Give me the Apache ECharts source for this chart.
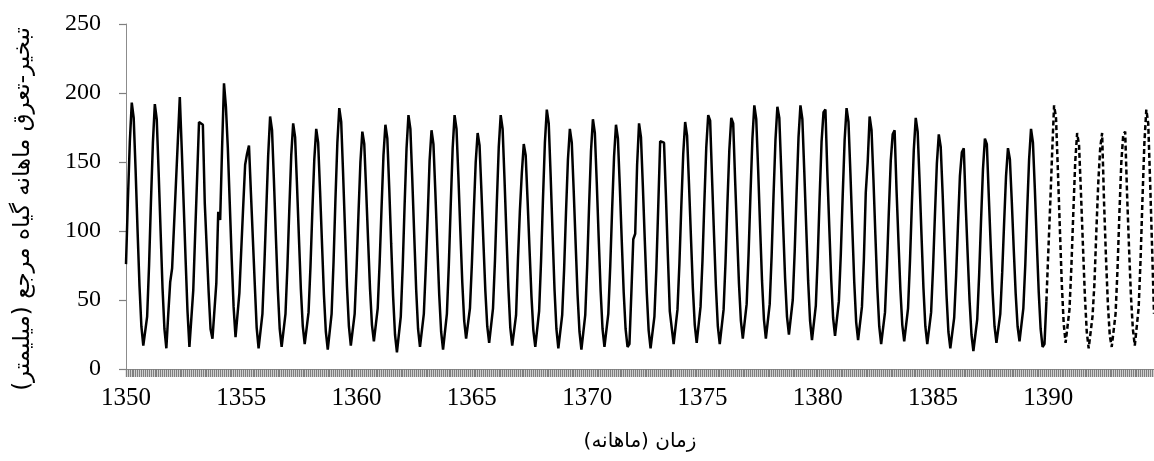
<!DOCTYPE html>
<html><head><meta charset="utf-8">
<script src="https://cdn.jsdelivr.net/npm/echarts@6/dist/echarts.min.js"></script>
<style>html,body{margin:0;padding:0;background:#fff}#c{width:1154px;height:461px}</style>
</head><body><div id="c"></div>
<script>
// Monthly reference ET (mm), observed 1350–1389 (Farvardin..Esfand per row)
const observed = [
  76,123,165,193,182,144,101,61,31,17,18,38,
  75,122,164,192,181,142,100,59,29,15,40,63,
  73,104,135,166,197,160,120,80,42,16,17,57,
  98,138,179,178,177,120,88,56,29,22,23,62,
  114,108,160,207,190,160,120,80,45,23,24,55,
  87,118,148,156,162,128,95,62,30,15,16,40,
  75,115,155,183,173,136,96,58,29,16,17,40,
  74,116,155,178,168,133,95,58,31,18,19,41,
  74,115,152,174,164,129,91,54,27,14,15,40,
  77,123,164,189,179,141,100,60,31,17,18,40,
  73,113,150,172,163,129,93,58,32,20,21,44,
  77,117,155,177,167,131,91,53,25,12,13,38,
  74,119,160,184,174,137,97,58,29,16,17,40,
  73,110,151,173,163,128,90,54,27,14,15,40,
  75,119,160,184,174,139,100,63,35,22,23,44,
  76,114,150,171,162,128,92,57,31,19,20,44,
  78,121,161,184,174,137,97,59,30,17,18,39,
  80,115,142,163,155,122,87,53,28,16,17,42,
  78,123,164,188,178,140,98,58,29,15,16,39,
  72,114,152,174,164,129,91,54,27,14,15,39,
  74,118,158,181,171,135,95,57,29,16,17,40,
  74,116,154,177,167,132,93,56,29,16,18,55,
  94,98,148,178,168,132,93,56,28,15,16,38,
  72,118,165,165,164,125,82,42,30,18,19,43,
  76,118,156,179,169,134,96,59,32,19,20,45,
  78,121,161,184,180,138,98,60,31,18,19,43,
  77,120,159,182,178,137,99,62,35,22,23,47,
  83,127,167,191,181,144,103,64,36,22,23,47,
  82,126,166,190,182,144,104,66,38,25,26,50,
  85,128,168,191,181,143,103,64,35,21,22,46,
  81,125,165,186,188,142,103,65,37,24,25,49,
  83,126,166,189,179,142,102,63,34,21,22,45,
  79,128,150,183,173,137,97,59,31,18,19,41,
  74,114,151,170,173,130,93,58,32,20,21,44,
  78,120,159,182,172,136,97,59,31,18,19,41,
  73,112,149,170,161,127,89,54,27,15,16,37,
  67,105,140,157,160,119,84,50,25,13,14,36,
  68,108,145,167,163,126,90,56,31,19,20,40,
  70,106,140,160,152,121,87,55,31,20,21,44,
  75,115,152,174,164,130,92,56,29,16,18,49
];
// Forecast 1390–1394 (dashed)
const forecast = [
  85,120,157,191,182,143,102,62,33,19,20,43,
  74,113,150,171,162,127,90,54,27,15,16,38,
  62,100,135,160,171,121,81,47,24,16,17,40,
  72,113,150,170,172,126,88,53,29,17,18,44,
  79,123,164,188,178,135,88,40
];
const startYear = 1350;
const labelStepMonths = 60;
const yTitle = 'تبخیر-تعرق ماهانه گیاه مرجع (میلیمتر)';
const xTitle = 'زمان (ماهانه)';

const total = observed.length + forecast.length;
const categories = [];
for (let i = 0; i < total; i++) {
  categories.push((startYear + Math.floor(i / 12)) + '-' + (i % 12 + 1));
}
const solidData = observed.concat(new Array(forecast.length).fill(null));
const dashData = new Array(observed.length - 1).fill(null)
  .concat([observed[observed.length - 1]], forecast);

const chart = echarts.init(document.getElementById('c'), null, {renderer: 'canvas'});
chart.setOption({
  animation: false,
  backgroundColor: '#fff',
  grid: {left: 126, right: 0, top: 24, bottom: 92, containLabel: false},
  graphic: [{
    type: 'text', x: 23, y: 209, rotation: Math.PI / 2,
    style: {text: yTitle, fill: '#000', font: '23px "DejaVu Sans"',
            textAlign: 'center', textVerticalAlign: 'middle'}
  }],
  xAxis: {
    type: 'category', boundaryGap: false, data: categories,
    axisLine: {show: true, lineStyle: {color: '#8c8c8c', width: 1}},
    axisTick: {show: true, interval: 0, length: 8, lineStyle: {color: '#7f7f7f', width: 1.4}},
    axisLabel: {
      interval: (i) => i % labelStepMonths === 0,
      formatter: (v) => v.split('-')[0],
      fontFamily: 'Liberation Serif', fontSize: 25, color: '#000', margin: 17
    },
    splitLine: {show: false},
    name: xTitle, nameLocation: 'middle', nameGap: 63,
    nameTextStyle: {fontFamily: 'DejaVu Sans', fontSize: 20, color: '#000'}
  },
  yAxis: {
    type: 'value', min: 0, max: 250, interval: 50,
    axisLine: {show: true, lineStyle: {color: '#8c8c8c', width: 1}},
    axisTick: {show: true, length: 7, lineStyle: {color: '#7f7f7f', width: 1.2}},
    axisLabel: {fontFamily: 'Liberation Serif', fontSize: 24, color: '#000', margin: 25},
    splitLine: {show: false}
  },
  series: [
    {type: 'line', data: solidData, showSymbol: false, symbol: 'none',
     lineStyle: {color: '#000', width: 2.5}, connectNulls: false},
    {type: 'line', data: dashData, showSymbol: false, symbol: 'none',
     lineStyle: {color: '#000', width: 2.5, type: [5, 3]}, connectNulls: false}
  ]
});
</script></body></html>
